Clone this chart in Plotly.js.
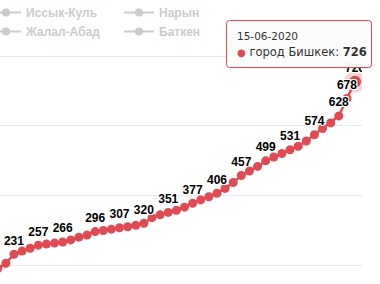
<!DOCTYPE html>
<html>
<head>
<meta charset="utf-8">
<script src="https://cdn.plot.ly/plotly-3.0.1.min.js"></script>
<style>html,body{margin:0;padding:0;background:#fff;overflow:hidden}#chart{width:380px;height:284px}</style>
</head>
<body>
<div id="chart"></div>
<script>
// ---- data ----
const seriesName = 'город Бишкек';
const dates = [
  '01-05-2020','02-05-2020','03-05-2020','04-05-2020','05-05-2020','06-05-2020','07-05-2020','08-05-2020',
  '09-05-2020','10-05-2020','11-05-2020','12-05-2020','13-05-2020','14-05-2020','15-05-2020','16-05-2020',
  '17-05-2020','18-05-2020','19-05-2020','20-05-2020','21-05-2020','22-05-2020','23-05-2020','24-05-2020',
  '25-05-2020','26-05-2020','27-05-2020','28-05-2020','29-05-2020','30-05-2020','31-05-2020','01-06-2020',
  '02-06-2020','03-06-2020','04-06-2020','05-06-2020','06-06-2020','07-06-2020','08-06-2020','09-06-2020',
  '10-06-2020','11-06-2020','12-06-2020','13-06-2020','14-06-2020','15-06-2020'
];
const bishkek = [
  188, 190, 205, 231, 240, 248, 257, 260,
  263, 266, 272, 280, 286, 296, 299, 303,
  307, 310, 314, 320, 336, 344, 351, 357,
  366, 377, 387, 396, 406, 420, 437, 457,
  470, 483, 499, 510, 520, 531, 541, 556,
  574, 592, 608, 628, 678, 726
];
// which data labels are visible (others hidden by overlap in the original)
const labelShown = [
  1,0,0,1,0,0,1,0,
  0,1,0,0,0,1,0,0,
  1,0,0,1,0,0,1,0,
  0,1,0,0,1,0,0,1,
  0,0,1,0,0,1,0,0,
  1,0,0,1,1,1
];
// series hidden in the original (shown in the legend only)
const hiddenSeries = ['Иссык-Куль', 'Нарын', 'Жалал-Абад', 'Баткен'];

// ---- styles ----
const RED = '#e04a52';
const W = 380, H = 284, ML = 0, MR = 18;
const PW = W - ML - MR;
const last = bishkek.length - 1;

const labels = bishkek.map((v, i) => labelShown[i] ? String(v) : '');

const traces = [];
hiddenSeries.forEach(name => {
  traces.push({
    type: 'scatter', mode: 'lines+markers', name: name,
    x: [dates[0]], y: [null],
    visible: 'legendonly',
    line: {color: '#999999', width: 2}, marker: {color: '#999999', size: 8}
  });
});
// hover halo + hover marker on the last point (drawn under the labels)
traces.push({
  type: 'scatter', mode: 'markers', x: [dates[last]], y: [bishkek[last]], showlegend: false,
  marker: {color: RED, size: 22, opacity: 0.22}, hoverinfo: 'skip'
});
traces.push({
  type: 'scatter', mode: 'markers', x: [dates[last]], y: [bishkek[last]], showlegend: false,
  marker: {color: RED, size: 12}, hoverinfo: 'skip'
});
traces.push({
  type: 'scatter', mode: 'lines+markers+text', name: seriesName,
  x: dates, y: bishkek, text: labels, textposition: 'top center',
  showlegend: false,
  line: {color: RED, width: 2.5},
  marker: {color: RED, size: 9},
  textfont: {family: 'Liberation Sans, Arial, sans-serif', size: 12, color: '#000', weight: 'bold',
             shadow: '1px 1px 0 #fff, -1px -1px 0 #fff, 1px -1px 0 #fff, -1px 1px 0 #fff, 0 1px 0 #fff, 0 -1px 0 #fff'},
  hoverinfo: 'skip'
});

// pixel -> paper helpers
const px = x => (x - ML) / PW;
const py = y => 1 - y / H;

function roundRect(x0, y0, x1, y1, r) {
  const p = (x, y) => px(x) + ',' + py(y);
  return 'M' + p(x0 + r, y0) + ' L' + p(x1 - r, y0) + ' Q' + p(x1, y0) + ' ' + p(x1, y0 + r) +
         ' L' + p(x1, y1 - r) + ' Q' + p(x1, y1) + ' ' + p(x1 - r, y1) +
         ' L' + p(x0 + r, y1) + ' Q' + p(x0, y1) + ' ' + p(x0, y1 - r) +
         ' L' + p(x0, y0 + r) + ' Q' + p(x0, y0) + ' ' + p(x0 + r, y0) + ' Z';
}

const layout = {
  width: W, height: H,
  margin: {l: ML, r: MR, t: 0, b: 0, pad: 0, autoexpand: false},
  paper_bgcolor: '#ffffff', plot_bgcolor: '#ffffff',
  showlegend: true,
  legend: {
    orientation: 'h', xanchor: 'left', yanchor: 'top', x: (-14 - ML) / PW, y: 1 + 2 / H,
    bgcolor: 'rgba(0,0,0,0)', borderwidth: 0, entrywidth: 88, entrywidthmode: 'pixels',
    font: {family: 'Liberation Sans, Arial, sans-serif', size: 12, color: '#999999', weight: 'bold'},
    itemclick: false, itemdoubleclick: false
  },
  xaxis: {type: 'category', categoryorder: 'array', categoryarray: dates,
          range: [1.281, 45.86], showgrid: false, showticklabels: false,
          zeroline: false, showline: false, ticks: ''},
  yaxis: {range: [145.5, 960.8], tick0: 0, dtick: 200, showgrid: true, gridcolor: '#e6e6e6', gridwidth: 1,
          showticklabels: false, zeroline: false, showline: false, ticks: ''},
  hovermode: false,
  shapes: [
    {type: 'path', xref: 'paper', yref: 'paper', layer: 'above',
     path: roundRect(228, 22, 373, 69, 3), fillcolor: 'rgba(0,0,0,0.06)', line: {width: 0}},
    {type: 'path', xref: 'paper', yref: 'paper', layer: 'above',
     path: roundRect(226.5, 20.5, 371.5, 67.5, 3), fillcolor: 'rgba(252,252,252,0.96)', line: {color: RED, width: 1}}
  ],
  annotations: [
    {xref: 'paper', yref: 'paper', x: px(235), y: py(35.5), xanchor: 'left', yanchor: 'middle', showarrow: false,
     text: dates[last], font: {family: 'DejaVu Sans, Verdana, sans-serif', size: 10.5, color: '#333333'}},
    {xref: 'paper', yref: 'paper', x: px(235), y: py(51.5), xanchor: 'left', yanchor: 'middle', showarrow: false,
     text: '<span style="color:' + RED + ';font-size:10px">●</span> ' + seriesName + ': <b>' + bishkek[last] + '</b>',
     font: {family: 'DejaVu Sans, Verdana, sans-serif', size: 11.5, color: '#333333'}}
  ]
};

Plotly.newPlot('chart', traces, layout, {displayModeBar: false, staticPlot: true});
</script>
</body>
</html>
